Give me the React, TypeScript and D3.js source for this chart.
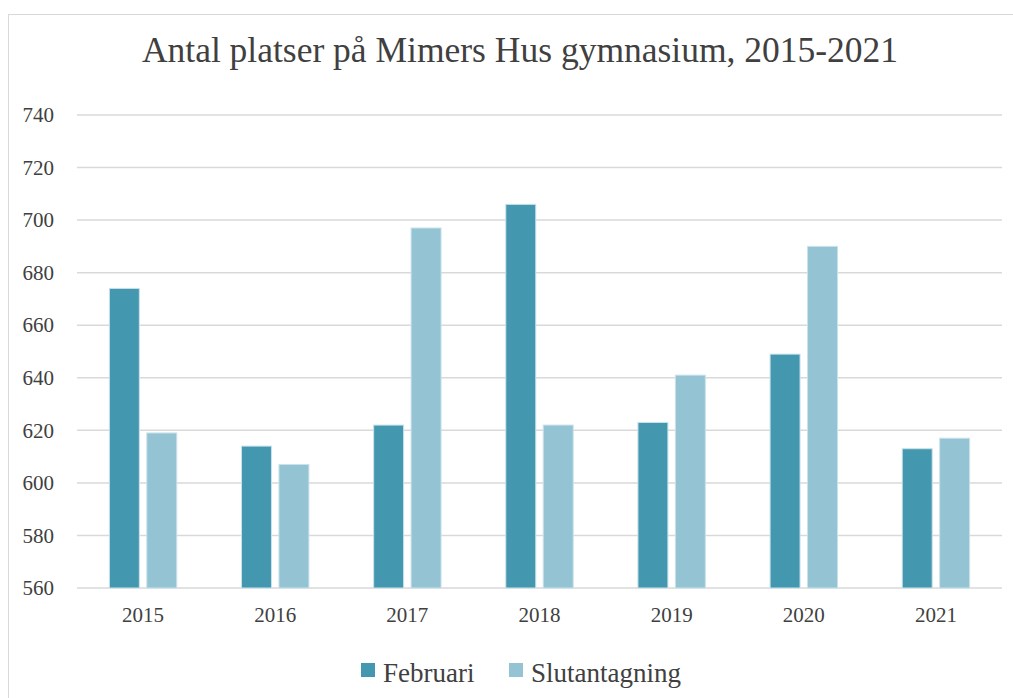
import * as d3 from "d3";
import { useEffect, useRef } from "react";

const years = ["2015", "2016", "2017", "2018", "2019", "2020", "2021"];
const februari = [674, 614, 622, 706, 623, 649, 613];
const slutantagning = [619, 607, 697, 622, 641, 690, 617];
const seriesNames = ["Februari", "Slutantagning"];
const seriesColors = ["#4397ae", "#94c3d4"];
const yTicks = [560, 580, 600, 620, 640, 660, 680, 700, 720, 740];

const W = 1013;
const H = 698;
const FONT = "'Liberation Serif', 'DejaVu Serif', serif";
const TEXT = "#404040";

const App = () => {
    const ref = useRef<SVGSVGElement>(null);

    useEffect(() => {
        const svg = d3.select(ref.current);
        svg.selectAll("*").remove();

        const margin = { top: 115, left: 77, right: 11, bottom: 110 };
        const plotW = W - margin.left - margin.right;
        const plotH = H - margin.top - margin.bottom;

        // outer frame
        svg.append("rect")
            .attr("x", 8.5).attr("y", 14.5)
            .attr("width", W).attr("height", H)
            .attr("fill", "#fff")
            .attr("stroke", "#d9d9d9");

        svg.append("text")
            .attr("x", 520).attr("y", 62)
            .attr("text-anchor", "middle")
            .style("font-family", FONT)
            .style("font-size", "35.5px")
            .attr("fill", TEXT)
            .text("Antal platser på Mimers Hus gymnasium, 2015-2021");

        const x = d3.scaleBand().domain(years).range([0, plotW]).paddingInner(0.49).paddingOuter(0.245);
        const xs = d3.scaleBand().domain(seriesNames).range([0, x.bandwidth()]).paddingInner(0.2);
        const y = d3.scaleLinear().domain([560, 740]).range([plotH, 0]);

        const g = svg.append("g").attr("transform", `translate(${margin.left},${margin.top})`);

        g.selectAll(".grid")
            .data(yTicks)
            .enter()
            .append("line")
            .attr("x1", 0).attr("x2", plotW)
            .attr("y1", d => y(d)).attr("y2", d => y(d))
            .attr("stroke", "#d9d9d9")
            .attr("stroke-width", 1.5);

        const yAxis = d3.axisLeft(y).tickValues(yTicks).tickSize(0).tickPadding(23);
        const ya = g.append("g").call(yAxis);
        ya.select(".domain").remove();
        ya.selectAll("text")
            .style("font-family", FONT)
            .style("font-size", "21px")
            .attr("fill", TEXT);

        const data = [februari, slutantagning];
        data.forEach((vals, si) => {
            g.selectAll(".bar-" + si)
                .data(vals)
                .enter()
                .append("rect")
                .attr("x", (d, i) => (x(years[i]) ?? 0) + (xs(seriesNames[si]) ?? 0))
                .attr("y", d => y(d))
                .attr("width", xs.bandwidth())
                .attr("height", d => plotH - y(d))
                .attr("fill", seriesColors[si])
                .attr("stroke", "#c9e2ea")
                .attr("stroke-width", 1);
        });

        const xAxis = d3.axisBottom(x).tickSize(0).tickPadding(19);
        const xa = g.append("g").attr("transform", `translate(0,${plotH})`).call(xAxis);
        xa.select(".domain").remove();
        xa.selectAll("text")
            .style("font-family", FONT)
            .style("font-size", "21px")
            .attr("fill", TEXT);

        // legend
        const legendX = [361, 509];
        seriesNames.forEach((name, i) => {
            svg.append("rect")
                .attr("x", legendX[i]).attr("y", 663)
                .attr("width", 14).attr("height", 14)
                .attr("fill", seriesColors[i]);
            svg.append("text")
                .attr("x", legendX[i] + 22).attr("y", 682)
                .style("font-family", FONT)
                .style("font-size", "27px")
                .attr("fill", TEXT)
                .text(name);
        });
    }, []);

    return (
        <svg ref={ref} width={W} height={H} style={{ position: "absolute", left: 0, top: 0, background: "#fff" }}></svg>
    );
};

export default App;
